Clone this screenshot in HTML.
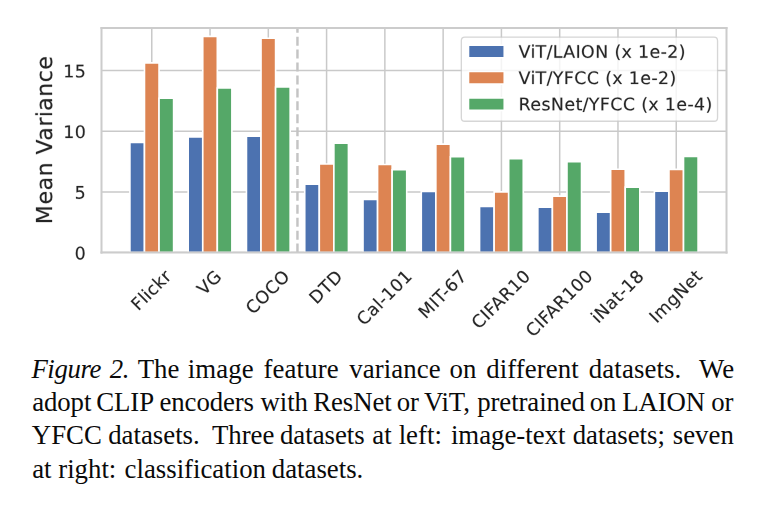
<!DOCTYPE html>
<html><head><meta charset="utf-8"><title>Figure 2</title>
<style>
html,body{margin:0;padding:0;background:#fff;}
body{width:765px;height:507px;position:relative;overflow:hidden;font-family:"Liberation Serif",serif;}
.cap{position:absolute;left:31.4px;width:720px;font-family:"Liberation Serif",serif;font-size:26.8px;line-height:33px;height:33px;color:#0a0a0a;white-space:nowrap;}
.cap i{font-style:italic;letter-spacing:-0.4px;}
.cap b{display:inline-block;font-weight:normal;height:1px;}

</style></head><body>
<svg width="765" height="507" viewBox="0 0 765 507" style="position:absolute;left:0;top:0;display:block"> <defs> <style type="text/css">*{stroke-linejoin: round; stroke-linecap: butt}</style> </defs> <g id="figure_1"> <g id="patch_1"> <path d="M 0 507 L 765 507 L 765 0 L 0 0 z " style="fill: #ffffff"/> </g> <g id="axes_1"> <g id="patch_2"> <path d="M 101.5 252.6 L 726.5 252.6 L 726.5 28.1 L 101.5 28.1 z " style="fill: #ffffff"/> </g> <g id="matplotlib.axis_1"> <g id="xtick_1"> <g id="line2d_1"> <path d="M 151.762 252.6 L 151.762 28.1 " clip-path="url(#p5febe5a006)" style="fill: none; stroke: #c9c9c9; stroke-width: 1.5; stroke-linecap: square"/> </g> <g id="text_1"> <g style="fill: #262626; stroke: #262626; stroke-width: 70" transform="translate(138.354 311.471) rotate(-45) scale(0.181 -0.181)"> <defs> <path id="DejaVuSans-46" d="M 628 4666 L 3309 4666 L 3309 4134 L 1259 4134 L 1259 2759 L 3109 2759 L 3109 2228 L 1259 2228 L 1259 0 L 628 0 L 628 4666 z " transform="scale(0.015)"/> <path id="DejaVuSans-6c" d="M 603 4863 L 1178 4863 L 1178 0 L 603 0 L 603 4863 z " transform="scale(0.015)"/> <path id="DejaVuSans-69" d="M 603 3500 L 1178 3500 L 1178 0 L 603 0 L 603 3500 z M 603 4863 L 1178 4863 L 1178 4134 L 603 4134 L 603 4863 z " transform="scale(0.015)"/> <path id="DejaVuSans-63" d="M 3122 3366 L 3122 2828 Q 2878 2963 2633 3030 Q 2388 3097 2138 3097 Q 1578 3097 1268 2742 Q 959 2388 959 1747 Q 959 1106 1268 751 Q 1578 397 2138 397 Q 2388 397 2633 464 Q 2878 531 3122 666 L 3122 134 Q 2881 22 2623 -34 Q 2366 -91 2075 -91 Q 1284 -91 818 406 Q 353 903 353 1747 Q 353 2603 823 3093 Q 1294 3584 2113 3584 Q 2378 3584 2631 3529 Q 2884 3475 3122 3366 z " transform="scale(0.015)"/> <path id="DejaVuSans-6b" d="M 581 4863 L 1159 4863 L 1159 1991 L 2875 3500 L 3609 3500 L 1753 1863 L 3688 0 L 2938 0 L 1159 1709 L 1159 0 L 581 0 L 581 4863 z " transform="scale(0.015)"/> <path id="DejaVuSans-72" d="M 2631 2963 Q 2534 3019 2420 3045 Q 2306 3072 2169 3072 Q 1681 3072 1420 2755 Q 1159 2438 1159 1844 L 1159 0 L 581 0 L 581 3500 L 1159 3500 L 1159 2956 Q 1341 3275 1631 3429 Q 1922 3584 2338 3584 Q 2397 3584 2469 3576 Q 2541 3569 2628 3553 L 2631 2963 z " transform="scale(0.015)"/> </defs> <use href="#DejaVuSans-46"/> <use href="#DejaVuSans-6c" transform="translate(57.519 0)"/> <use href="#DejaVuSans-69" transform="translate(85.302 0)"/> <use href="#DejaVuSans-63" transform="translate(113.085 0)"/> <use href="#DejaVuSans-6b" transform="translate(168.066 0)"/> <use href="#DejaVuSans-72" transform="translate(225.976 0)"/> </g> </g> </g> <g id="xtick_2"> <g id="line2d_2"> <path d="M 210.037 252.6 L 210.037 28.1 " clip-path="url(#p5febe5a006)" style="fill: none; stroke: #c9c9c9; stroke-width: 1.5; stroke-linecap: square"/> </g> <g id="text_2"> <g style="fill: #262626; stroke: #262626; stroke-width: 70" transform="translate(204.298 296.134) rotate(-45) scale(0.181 -0.181)"> <defs> <path id="DejaVuSans-56" d="M 1831 0 L 50 4666 L 709 4666 L 2188 738 L 3669 4666 L 4325 4666 L 2547 0 L 1831 0 z " transform="scale(0.015)"/> <path id="DejaVuSans-47" d="M 3809 666 L 3809 1919 L 2778 1919 L 2778 2438 L 4434 2438 L 4434 434 Q 4069 175 3628 42 Q 3188 -91 2688 -91 Q 1594 -91 976 548 Q 359 1188 359 2328 Q 359 3472 976 4111 Q 1594 4750 2688 4750 Q 3144 4750 3555 4637 Q 3966 4525 4313 4306 L 4313 3634 Q 3963 3931 3569 4081 Q 3175 4231 2741 4231 Q 1884 4231 1454 3753 Q 1025 3275 1025 2328 Q 1025 1384 1454 906 Q 1884 428 2741 428 Q 3075 428 3337 486 Q 3600 544 3809 666 z " transform="scale(0.015)"/> </defs> <use href="#DejaVuSans-56"/> <use href="#DejaVuSans-47" transform="translate(68.408 0)"/> </g> </g> </g> <g id="xtick_3"> <g id="line2d_3"> <path d="M 268.312 252.6 L 268.312 28.1 " clip-path="url(#p5febe5a006)" style="fill: none; stroke: #c9c9c9; stroke-width: 1.5; stroke-linecap: square"/> </g> <g id="text_3"> <g style="fill: #262626; stroke: #262626; stroke-width: 70" transform="translate(253.005 315.269) rotate(-45) scale(0.181 -0.181)"> <defs> <path id="DejaVuSans-43" d="M 4122 4306 L 4122 3641 Q 3803 3938 3442 4084 Q 3081 4231 2675 4231 Q 1875 4231 1450 3742 Q 1025 3253 1025 2328 Q 1025 1406 1450 917 Q 1875 428 2675 428 Q 3081 428 3442 575 Q 3803 722 4122 1019 L 4122 359 Q 3791 134 3420 21 Q 3050 -91 2638 -91 Q 1578 -91 968 557 Q 359 1206 359 2328 Q 359 3453 968 4101 Q 1578 4750 2638 4750 Q 3056 4750 3426 4639 Q 3797 4528 4122 4306 z " transform="scale(0.015)"/> <path id="DejaVuSans-4f" d="M 2522 4238 Q 1834 4238 1429 3725 Q 1025 3213 1025 2328 Q 1025 1447 1429 934 Q 1834 422 2522 422 Q 3209 422 3611 934 Q 4013 1447 4013 2328 Q 4013 3213 3611 3725 Q 3209 4238 2522 4238 z M 2522 4750 Q 3503 4750 4090 4092 Q 4678 3434 4678 2328 Q 4678 1225 4090 567 Q 3503 -91 2522 -91 Q 1538 -91 948 565 Q 359 1222 359 2328 Q 359 3434 948 4092 Q 1538 4750 2522 4750 z " transform="scale(0.015)"/> </defs> <use href="#DejaVuSans-43"/> <use href="#DejaVuSans-4f" transform="translate(69.824 0)"/> <use href="#DejaVuSans-43" transform="translate(148.535 0)"/> <use href="#DejaVuSans-4f" transform="translate(218.359 0)"/> </g> </g> </g> <g id="xtick_4"> <g id="line2d_4"> <path d="M 326.587 252.6 L 326.587 28.1 " clip-path="url(#p5febe5a006)" style="fill: none; stroke: #c9c9c9; stroke-width: 1.5; stroke-linecap: square"/> </g> <g id="text_4"> <g style="fill: #262626; stroke: #262626; stroke-width: 70" transform="translate(316.470 304.890) rotate(-45) scale(0.181 -0.181)"> <defs> <path id="DejaVuSans-44" d="M 1259 4147 L 1259 519 L 2022 519 Q 2988 519 3436 956 Q 3884 1394 3884 2338 Q 3884 3275 3436 3711 Q 2988 4147 2022 4147 L 1259 4147 z M 628 4666 L 1925 4666 Q 3281 4666 3915 4102 Q 4550 3538 4550 2338 Q 4550 1131 3912 565 Q 3275 0 1925 0 L 628 0 L 628 4666 z " transform="scale(0.015)"/> <path id="DejaVuSans-54" d="M -19 4666 L 3928 4666 L 3928 4134 L 2272 4134 L 2272 0 L 1638 0 L 1638 4134 L -19 4134 L -19 4666 z " transform="scale(0.015)"/> </defs> <use href="#DejaVuSans-44"/> <use href="#DejaVuSans-54" transform="translate(77.001 0)"/> <use href="#DejaVuSans-44" transform="translate(138.085 0)"/> </g> </g> </g> <g id="xtick_5"> <g id="line2d_5"> <path d="M 384.862 252.6 L 384.862 28.1 " clip-path="url(#p5febe5a006)" style="fill: none; stroke: #c9c9c9; stroke-width: 1.5; stroke-linecap: square"/> </g> <g id="text_5"> <g style="fill: #262626; stroke: #262626; stroke-width: 70" transform="translate(363.940 326.501) rotate(-45) scale(0.181 -0.181)"> <defs> <path id="DejaVuSans-61" d="M 2194 1759 Q 1497 1759 1228 1600 Q 959 1441 959 1056 Q 959 750 1161 570 Q 1363 391 1709 391 Q 2188 391 2477 730 Q 2766 1069 2766 1631 L 2766 1759 L 2194 1759 z M 3341 1997 L 3341 0 L 2766 0 L 2766 531 Q 2569 213 2275 61 Q 1981 -91 1556 -91 Q 1019 -91 701 211 Q 384 513 384 1019 Q 384 1609 779 1909 Q 1175 2209 1959 2209 L 2766 2209 L 2766 2266 Q 2766 2663 2505 2880 Q 2244 3097 1772 3097 Q 1472 3097 1187 3025 Q 903 2953 641 2809 L 641 3341 Q 956 3463 1253 3523 Q 1550 3584 1831 3584 Q 2591 3584 2966 3190 Q 3341 2797 3341 1997 z " transform="scale(0.015)"/> <path id="DejaVuSans-2d" d="M 313 2009 L 1997 2009 L 1997 1497 L 313 1497 L 313 2009 z " transform="scale(0.015)"/> <path id="DejaVuSans-31" d="M 794 531 L 1825 531 L 1825 4091 L 703 3866 L 703 4441 L 1819 4666 L 2450 4666 L 2450 531 L 3481 531 L 3481 0 L 794 0 L 794 531 z " transform="scale(0.015)"/> <path id="DejaVuSans-30" d="M 2034 4250 Q 1547 4250 1301 3770 Q 1056 3291 1056 2328 Q 1056 1369 1301 889 Q 1547 409 2034 409 Q 2525 409 2770 889 Q 3016 1369 3016 2328 Q 3016 3291 2770 3770 Q 2525 4250 2034 4250 z M 2034 4750 Q 2819 4750 3233 4129 Q 3647 3509 3647 2328 Q 3647 1150 3233 529 Q 2819 -91 2034 -91 Q 1250 -91 836 529 Q 422 1150 422 2328 Q 422 3509 836 4129 Q 1250 4750 2034 4750 z " transform="scale(0.015)"/> </defs> <use href="#DejaVuSans-43"/> <use href="#DejaVuSans-61" transform="translate(69.824 0)"/> <use href="#DejaVuSans-6c" transform="translate(131.103 0)"/> <use href="#DejaVuSans-2d" transform="translate(158.886 0)"/> <use href="#DejaVuSans-31" transform="translate(194.970 0)"/> <use href="#DejaVuSans-30" transform="translate(258.593 0)"/> <use href="#DejaVuSans-31" transform="translate(322.216 0)"/> </g> </g> </g> <g id="xtick_6"> <g id="line2d_6"> <path d="M 443.137 252.6 L 443.137 28.1 " clip-path="url(#p5febe5a006)" style="fill: none; stroke: #c9c9c9; stroke-width: 1.5; stroke-linecap: square"/> </g> <g id="text_6"> <g style="fill: #262626; stroke: #262626; stroke-width: 70" transform="translate(425.681 319.568) rotate(-45) scale(0.181 -0.181)"> <defs> <path id="DejaVuSans-4d" d="M 628 4666 L 1569 4666 L 2759 1491 L 3956 4666 L 4897 4666 L 4897 0 L 4281 0 L 4281 4097 L 3078 897 L 2444 897 L 1241 4097 L 1241 0 L 628 0 L 628 4666 z " transform="scale(0.015)"/> <path id="DejaVuSans-49" d="M 628 4666 L 1259 4666 L 1259 0 L 628 0 L 628 4666 z " transform="scale(0.015)"/> <path id="DejaVuSans-36" d="M 2113 2584 Q 1688 2584 1439 2293 Q 1191 2003 1191 1497 Q 1191 994 1439 701 Q 1688 409 2113 409 Q 2538 409 2786 701 Q 3034 994 3034 1497 Q 3034 2003 2786 2293 Q 2538 2584 2113 2584 z M 3366 4563 L 3366 3988 Q 3128 4100 2886 4159 Q 2644 4219 2406 4219 Q 1781 4219 1451 3797 Q 1122 3375 1075 2522 Q 1259 2794 1537 2939 Q 1816 3084 2150 3084 Q 2853 3084 3261 2657 Q 3669 2231 3669 1497 Q 3669 778 3244 343 Q 2819 -91 2113 -91 Q 1303 -91 875 529 Q 447 1150 447 2328 Q 447 3434 972 4092 Q 1497 4750 2381 4750 Q 2619 4750 2861 4703 Q 3103 4656 3366 4563 z " transform="scale(0.015)"/> <path id="DejaVuSans-37" d="M 525 4666 L 3525 4666 L 3525 4397 L 1831 0 L 1172 0 L 2766 4134 L 525 4134 L 525 4666 z " transform="scale(0.015)"/> </defs> <use href="#DejaVuSans-4d"/> <use href="#DejaVuSans-49" transform="translate(86.279 0)"/> <use href="#DejaVuSans-54" transform="translate(115.771 0)"/> <use href="#DejaVuSans-2d" transform="translate(167.730 0)"/> <use href="#DejaVuSans-36" transform="translate(203.814 0)"/> <use href="#DejaVuSans-37" transform="translate(267.437 0)"/> </g> </g> </g> <g id="xtick_7"> <g id="line2d_7"> <path d="M 501.412 252.6 L 501.412 28.1 " clip-path="url(#p5febe5a006)" style="fill: none; stroke: #c9c9c9; stroke-width: 1.5; stroke-linecap: square"/> </g> <g id="text_7"> <g style="fill: #262626; stroke: #262626; stroke-width: 70" transform="translate(478.780 329.920) rotate(-45) scale(0.181 -0.181)"> <defs> <path id="DejaVuSans-41" d="M 2188 4044 L 1331 1722 L 3047 1722 L 2188 4044 z M 1831 4666 L 2547 4666 L 4325 0 L 3669 0 L 3244 1197 L 1141 1197 L 716 0 L 50 0 L 1831 4666 z " transform="scale(0.015)"/> <path id="DejaVuSans-52" d="M 2841 2188 Q 3044 2119 3236 1894 Q 3428 1669 3622 1275 L 4263 0 L 3584 0 L 2988 1197 Q 2756 1666 2539 1819 Q 2322 1972 1947 1972 L 1259 1972 L 1259 0 L 628 0 L 628 4666 L 2053 4666 Q 2853 4666 3247 4331 Q 3641 3997 3641 3322 Q 3641 2881 3436 2590 Q 3231 2300 2841 2188 z M 1259 4147 L 1259 2491 L 2053 2491 Q 2509 2491 2742 2702 Q 2975 2913 2975 3322 Q 2975 3731 2742 3939 Q 2509 4147 2053 4147 L 1259 4147 z " transform="scale(0.015)"/> </defs> <use href="#DejaVuSans-43"/> <use href="#DejaVuSans-49" transform="translate(69.824 0)"/> <use href="#DejaVuSans-46" transform="translate(99.316 0)"/> <use href="#DejaVuSans-41" transform="translate(147.710 0)"/> <use href="#DejaVuSans-52" transform="translate(216.119 0)"/> <use href="#DejaVuSans-31" transform="translate(285.601 0)"/> <use href="#DejaVuSans-30" transform="translate(349.224 0)"/> </g> </g> </g> <g id="xtick_8"> <g id="line2d_8"> <path d="M 559.687 252.6 L 559.687 28.1 " clip-path="url(#p5febe5a006)" style="fill: none; stroke: #c9c9c9; stroke-width: 1.5; stroke-linecap: square"/> </g> <g id="text_8"> <g style="fill: #262626; stroke: #262626; stroke-width: 70" transform="translate(533.029 337.971) rotate(-45) scale(0.181 -0.181)"> <use href="#DejaVuSans-43"/> <use href="#DejaVuSans-49" transform="translate(69.824 0)"/> <use href="#DejaVuSans-46" transform="translate(99.316 0)"/> <use href="#DejaVuSans-41" transform="translate(147.710 0)"/> <use href="#DejaVuSans-52" transform="translate(216.119 0)"/> <use href="#DejaVuSans-31" transform="translate(285.601 0)"/> <use href="#DejaVuSans-30" transform="translate(349.224 0)"/> <use href="#DejaVuSans-30" transform="translate(412.847 0)"/> </g> </g> </g> <g id="xtick_9"> <g id="line2d_9"> <path d="M 617.962 252.6 L 617.962 28.1 " clip-path="url(#p5febe5a006)" style="fill: none; stroke: #c9c9c9; stroke-width: 1.5; stroke-linecap: square"/> </g> <g id="text_9"> <g style="fill: #262626; stroke: #262626; stroke-width: 70" transform="translate(598.270 324.041) rotate(-45) scale(0.181 -0.181)"> <defs> <path id="DejaVuSans-4e" d="M 628 4666 L 1478 4666 L 3547 763 L 3547 4666 L 4159 4666 L 4159 0 L 3309 0 L 1241 3903 L 1241 0 L 628 0 L 628 4666 z " transform="scale(0.015)"/> <path id="DejaVuSans-74" d="M 1172 4494 L 1172 3500 L 2356 3500 L 2356 3053 L 1172 3053 L 1172 1153 Q 1172 725 1289 603 Q 1406 481 1766 481 L 2356 481 L 2356 0 L 1766 0 Q 1100 0 847 248 Q 594 497 594 1153 L 594 3053 L 172 3053 L 172 3500 L 594 3500 L 594 4494 L 1172 4494 z " transform="scale(0.015)"/> <path id="DejaVuSans-38" d="M 2034 2216 Q 1584 2216 1326 1975 Q 1069 1734 1069 1313 Q 1069 891 1326 650 Q 1584 409 2034 409 Q 2484 409 2743 651 Q 3003 894 3003 1313 Q 3003 1734 2745 1975 Q 2488 2216 2034 2216 z M 1403 2484 Q 997 2584 770 2862 Q 544 3141 544 3541 Q 544 4100 942 4425 Q 1341 4750 2034 4750 Q 2731 4750 3128 4425 Q 3525 4100 3525 3541 Q 3525 3141 3298 2862 Q 3072 2584 2669 2484 Q 3125 2378 3379 2068 Q 3634 1759 3634 1313 Q 3634 634 3220 271 Q 2806 -91 2034 -91 Q 1263 -91 848 271 Q 434 634 434 1313 Q 434 1759 690 2068 Q 947 2378 1403 2484 z M 1172 3481 Q 1172 3119 1398 2916 Q 1625 2713 2034 2713 Q 2441 2713 2670 2916 Q 2900 3119 2900 3481 Q 2900 3844 2670 4047 Q 2441 4250 2034 4250 Q 1625 4250 1398 4047 Q 1172 3844 1172 3481 z " transform="scale(0.015)"/> </defs> <use href="#DejaVuSans-69"/> <use href="#DejaVuSans-4e" transform="translate(27.783 0)"/> <use href="#DejaVuSans-61" transform="translate(102.587 0)"/> <use href="#DejaVuSans-74" transform="translate(163.867 0)"/> <use href="#DejaVuSans-2d" transform="translate(203.076 0)"/> <use href="#DejaVuSans-31" transform="translate(239.160 0)"/> <use href="#DejaVuSans-38" transform="translate(302.783 0)"/> </g> </g> </g> <g id="xtick_10"> <g id="line2d_10"> <path d="M 676.237 252.6 L 676.237 28.1 " clip-path="url(#p5febe5a006)" style="fill: none; stroke: #c9c9c9; stroke-width: 1.5; stroke-linecap: square"/> </g> <g id="text_10"> <g style="fill: #262626; stroke: #262626; stroke-width: 70" transform="translate(656.574 323.982) rotate(-45) scale(0.181 -0.181)"> <defs> <path id="DejaVuSans-6d" d="M 3328 2828 Q 3544 3216 3844 3400 Q 4144 3584 4550 3584 Q 5097 3584 5394 3201 Q 5691 2819 5691 2113 L 5691 0 L 5113 0 L 5113 2094 Q 5113 2597 4934 2840 Q 4756 3084 4391 3084 Q 3944 3084 3684 2787 Q 3425 2491 3425 1978 L 3425 0 L 2847 0 L 2847 2094 Q 2847 2600 2669 2842 Q 2491 3084 2119 3084 Q 1678 3084 1418 2786 Q 1159 2488 1159 1978 L 1159 0 L 581 0 L 581 3500 L 1159 3500 L 1159 2956 Q 1356 3278 1631 3431 Q 1906 3584 2284 3584 Q 2666 3584 2933 3390 Q 3200 3197 3328 2828 z " transform="scale(0.015)"/> <path id="DejaVuSans-67" d="M 2906 1791 Q 2906 2416 2648 2759 Q 2391 3103 1925 3103 Q 1463 3103 1205 2759 Q 947 2416 947 1791 Q 947 1169 1205 825 Q 1463 481 1925 481 Q 2391 481 2648 825 Q 2906 1169 2906 1791 z M 3481 434 Q 3481 -459 3084 -895 Q 2688 -1331 1869 -1331 Q 1566 -1331 1297 -1286 Q 1028 -1241 775 -1147 L 775 -588 Q 1028 -725 1275 -790 Q 1522 -856 1778 -856 Q 2344 -856 2625 -561 Q 2906 -266 2906 331 L 2906 616 Q 2728 306 2450 153 Q 2172 0 1784 0 Q 1141 0 747 490 Q 353 981 353 1791 Q 353 2603 747 3093 Q 1141 3584 1784 3584 Q 2172 3584 2450 3431 Q 2728 3278 2906 2969 L 2906 3500 L 3481 3500 L 3481 434 z " transform="scale(0.015)"/> <path id="DejaVuSans-65" d="M 3597 1894 L 3597 1613 L 953 1613 Q 991 1019 1311 708 Q 1631 397 2203 397 Q 2534 397 2845 478 Q 3156 559 3463 722 L 3463 178 Q 3153 47 2828 -22 Q 2503 -91 2169 -91 Q 1331 -91 842 396 Q 353 884 353 1716 Q 353 2575 817 3079 Q 1281 3584 2069 3584 Q 2775 3584 3186 3129 Q 3597 2675 3597 1894 z M 3022 2063 Q 3016 2534 2758 2815 Q 2500 3097 2075 3097 Q 1594 3097 1305 2825 Q 1016 2553 972 2059 L 3022 2063 z " transform="scale(0.015)"/> </defs> <use href="#DejaVuSans-49"/> <use href="#DejaVuSans-6d" transform="translate(29.492 0)"/> <use href="#DejaVuSans-67" transform="translate(126.904 0)"/> <use href="#DejaVuSans-4e" transform="translate(190.380 0)"/> <use href="#DejaVuSans-65" transform="translate(265.185 0)"/> <use href="#DejaVuSans-74" transform="translate(326.708 0)"/> </g> </g> </g> </g> <g id="matplotlib.axis_2"> <g id="ytick_1"> <g id="line2d_11"> <path d="M 101.5 252.6 L 726.5 252.6 " clip-path="url(#p5febe5a006)" style="fill: none; stroke: #c9c9c9; stroke-width: 1.5; stroke-linecap: square"/> </g> <g id="text_11"> <g style="fill: #262626; stroke: #262626; stroke-width: 70" transform="translate(74.656 259.399) scale(0.181 -0.181)"> <use href="#DejaVuSans-30"/> </g> </g> </g> <g id="ytick_2"> <g id="line2d_12"> <path d="M 101.5 191.924 L 726.5 191.924 " clip-path="url(#p5febe5a006)" style="fill: none; stroke: #c9c9c9; stroke-width: 1.5; stroke-linecap: square"/> </g> <g id="text_12"> <g style="fill: #262626; stroke: #262626; stroke-width: 70" transform="translate(74.656 198.723) scale(0.181 -0.181)"> <defs> <path id="DejaVuSans-35" d="M 691 4666 L 3169 4666 L 3169 4134 L 1269 4134 L 1269 2991 Q 1406 3038 1543 3061 Q 1681 3084 1819 3084 Q 2600 3084 3056 2656 Q 3513 2228 3513 1497 Q 3513 744 3044 326 Q 2575 -91 1722 -91 Q 1428 -91 1123 -41 Q 819 9 494 109 L 494 744 Q 775 591 1075 516 Q 1375 441 1709 441 Q 2250 441 2565 725 Q 2881 1009 2881 1497 Q 2881 1984 2565 2268 Q 2250 2553 1709 2553 Q 1456 2553 1204 2497 Q 953 2441 691 2322 L 691 4666 z " transform="scale(0.015)"/> </defs> <use href="#DejaVuSans-35"/> </g> </g> </g> <g id="ytick_3"> <g id="line2d_13"> <path d="M 101.5 131.248 L 726.5 131.248 " clip-path="url(#p5febe5a006)" style="fill: none; stroke: #c9c9c9; stroke-width: 1.5; stroke-linecap: square"/> </g> <g id="text_13"> <g style="fill: #262626; stroke: #262626; stroke-width: 70" transform="translate(63.269 138.048) scale(0.181 -0.181)"> <use href="#DejaVuSans-31"/> <use href="#DejaVuSans-30" transform="translate(63.623 0)"/> </g> </g> </g> <g id="ytick_4"> <g id="line2d_14"> <path d="M 101.5 70.572 L 726.5 70.572 " clip-path="url(#p5febe5a006)" style="fill: none; stroke: #c9c9c9; stroke-width: 1.5; stroke-linecap: square"/> </g> <g id="text_14"> <g style="fill: #262626; stroke: #262626; stroke-width: 70" transform="translate(63.269 77.372) scale(0.181 -0.181)"> <use href="#DejaVuSans-31"/> <use href="#DejaVuSans-35" transform="translate(63.623 0)"/> </g> </g> </g> <g id="text_15"> <g style="fill: #262626; stroke: #262626; stroke-width: 70" transform="translate(52.024 224.201) rotate(-90) scale(0.229 -0.229)"> <defs> <path id="DejaVuSans-6e" d="M 3513 2113 L 3513 0 L 2938 0 L 2938 2094 Q 2938 2591 2744 2837 Q 2550 3084 2163 3084 Q 1697 3084 1428 2787 Q 1159 2491 1159 1978 L 1159 0 L 581 0 L 581 3500 L 1159 3500 L 1159 2956 Q 1366 3272 1645 3428 Q 1925 3584 2291 3584 Q 2894 3584 3203 3211 Q 3513 2838 3513 2113 z " transform="scale(0.015)"/> <path id="DejaVuSans-20" transform="scale(0.015)"/> </defs> <use href="#DejaVuSans-4d"/> <use href="#DejaVuSans-65" transform="translate(86.279 0)"/> <use href="#DejaVuSans-61" transform="translate(147.802 0)"/> <use href="#DejaVuSans-6e" transform="translate(209.082 0)"/> <use href="#DejaVuSans-20" transform="translate(272.460 0)"/> <use href="#DejaVuSans-56" transform="translate(304.248 0)"/> <use href="#DejaVuSans-61" transform="translate(364.906 0)"/> <use href="#DejaVuSans-72" transform="translate(426.185 0)"/> <use href="#DejaVuSans-69" transform="translate(467.298 0)"/> <use href="#DejaVuSans-61" transform="translate(495.082 0)"/> <use href="#DejaVuSans-6e" transform="translate(556.361 0)"/> <use href="#DejaVuSans-63" transform="translate(619.740 0)"/> <use href="#DejaVuSans-65" transform="translate(674.720 0)"/> </g> </g> </g> <g id="patch_3"> <path d="M 129.909 252.6 L 144.477 252.6 L 144.477 142.456 L 129.909 142.456 z " clip-path="url(#p5febe5a006)" style="fill: #4c72b0; stroke: #ffffff; stroke-width: 1.627; stroke-linejoin: miter"/> </g> <g id="patch_4"> <path d="M 188.184 252.6 L 202.752 252.6 L 202.752 136.879 L 188.184 136.879 z " clip-path="url(#p5febe5a006)" style="fill: #4c72b0; stroke: #ffffff; stroke-width: 1.627; stroke-linejoin: miter"/> </g> <g id="patch_5"> <path d="M 246.459 252.6 L 261.027 252.6 L 261.027 136.152 L 246.459 136.152 z " clip-path="url(#p5febe5a006)" style="fill: #4c72b0; stroke: #ffffff; stroke-width: 1.627; stroke-linejoin: miter"/> </g> <g id="patch_6"> <path d="M 304.734 252.6 L 319.303 252.6 L 319.303 184.163 L 304.734 184.163 z " clip-path="url(#p5febe5a006)" style="fill: #4c72b0; stroke: #ffffff; stroke-width: 1.627; stroke-linejoin: miter"/> </g> <g id="patch_7"> <path d="M 363.009 252.6 L 377.578 252.6 L 377.578 199.318 L 363.009 199.318 z " clip-path="url(#p5febe5a006)" style="fill: #4c72b0; stroke: #ffffff; stroke-width: 1.627; stroke-linejoin: miter"/> </g> <g id="patch_8"> <path d="M 421.284 252.6 L 435.853 252.6 L 435.853 191.437 L 421.284 191.437 z " clip-path="url(#p5febe5a006)" style="fill: #4c72b0; stroke: #ffffff; stroke-width: 1.627; stroke-linejoin: miter"/> </g> <g id="patch_9"> <path d="M 479.559 252.6 L 494.128 252.6 L 494.128 206.350 L 479.559 206.350 z " clip-path="url(#p5febe5a006)" style="fill: #4c72b0; stroke: #ffffff; stroke-width: 1.627; stroke-linejoin: miter"/> </g> <g id="patch_10"> <path d="M 537.834 252.6 L 552.403 252.6 L 552.403 207.198 L 537.834 207.198 z " clip-path="url(#p5febe5a006)" style="fill: #4c72b0; stroke: #ffffff; stroke-width: 1.627; stroke-linejoin: miter"/> </g> <g id="patch_11"> <path d="M 596.109 252.6 L 610.678 252.6 L 610.678 212.290 L 596.109 212.290 z " clip-path="url(#p5febe5a006)" style="fill: #4c72b0; stroke: #ffffff; stroke-width: 1.627; stroke-linejoin: miter"/> </g> <g id="patch_12"> <path d="M 654.384 252.6 L 668.953 252.6 L 668.953 191.195 L 654.384 191.195 z " clip-path="url(#p5febe5a006)" style="fill: #4c72b0; stroke: #ffffff; stroke-width: 1.627; stroke-linejoin: miter"/> </g> <g id="patch_13"> <path d="M 144.477 252.6 L 159.046 252.6 L 159.046 62.923 L 144.477 62.923 z " clip-path="url(#p5febe5a006)" style="fill: #dd8452; stroke: #ffffff; stroke-width: 1.627; stroke-linejoin: miter"/> </g> <g id="patch_14"> <path d="M 202.752 252.6 L 217.321 252.6 L 217.321 36.371 L 202.752 36.371 z " clip-path="url(#p5febe5a006)" style="fill: #dd8452; stroke: #ffffff; stroke-width: 1.627; stroke-linejoin: miter"/> </g> <g id="patch_15"> <path d="M 261.027 252.6 L 275.596 252.6 L 275.596 38.311 L 261.027 38.311 z " clip-path="url(#p5febe5a006)" style="fill: #dd8452; stroke: #ffffff; stroke-width: 1.627; stroke-linejoin: miter"/> </g> <g id="patch_16"> <path d="M 319.303 252.6 L 333.871 252.6 L 333.871 164.037 L 319.303 164.037 z " clip-path="url(#p5febe5a006)" style="fill: #dd8452; stroke: #ffffff; stroke-width: 1.627; stroke-linejoin: miter"/> </g> <g id="patch_17"> <path d="M 377.578 252.6 L 392.146 252.6 L 392.146 164.522 L 377.578 164.522 z " clip-path="url(#p5febe5a006)" style="fill: #dd8452; stroke: #ffffff; stroke-width: 1.627; stroke-linejoin: miter"/> </g> <g id="patch_18"> <path d="M 435.853 252.6 L 450.421 252.6 L 450.421 144.153 L 435.853 144.153 z " clip-path="url(#p5febe5a006)" style="fill: #dd8452; stroke: #ffffff; stroke-width: 1.627; stroke-linejoin: miter"/> </g> <g id="patch_19"> <path d="M 494.128 252.6 L 508.696 252.6 L 508.696 191.922 L 494.128 191.922 z " clip-path="url(#p5febe5a006)" style="fill: #dd8452; stroke: #ffffff; stroke-width: 1.627; stroke-linejoin: miter"/> </g> <g id="patch_20"> <path d="M 552.403 252.6 L 566.972 252.6 L 566.972 196.165 L 552.403 196.165 z " clip-path="url(#p5febe5a006)" style="fill: #dd8452; stroke: #ffffff; stroke-width: 1.627; stroke-linejoin: miter"/> </g> <g id="patch_21"> <path d="M 610.678 252.6 L 625.247 252.6 L 625.247 169.250 L 610.678 169.250 z " clip-path="url(#p5febe5a006)" style="fill: #dd8452; stroke: #ffffff; stroke-width: 1.627; stroke-linejoin: miter"/> </g> <g id="patch_22"> <path d="M 668.953 252.6 L 683.522 252.6 L 683.522 169.371 L 668.953 169.371 z " clip-path="url(#p5febe5a006)" style="fill: #dd8452; stroke: #ffffff; stroke-width: 1.627; stroke-linejoin: miter"/> </g> <g id="patch_23"> <path d="M 159.046 252.6 L 173.615 252.6 L 173.615 98.203 L 159.046 98.203 z " clip-path="url(#p5febe5a006)" style="fill: #55a868; stroke: #ffffff; stroke-width: 1.627; stroke-linejoin: miter"/> </g> <g id="patch_24"> <path d="M 217.321 252.6 L 231.890 252.6 L 231.890 88.019 L 217.321 88.019 z " clip-path="url(#p5febe5a006)" style="fill: #55a868; stroke: #ffffff; stroke-width: 1.627; stroke-linejoin: miter"/> </g> <g id="patch_25"> <path d="M 275.596 252.6 L 290.165 252.6 L 290.165 87.049 L 275.596 87.049 z " clip-path="url(#p5febe5a006)" style="fill: #55a868; stroke: #ffffff; stroke-width: 1.627; stroke-linejoin: miter"/> </g> <g id="patch_26"> <path d="M 333.871 252.6 L 348.440 252.6 L 348.440 143.184 L 333.871 143.184 z " clip-path="url(#p5febe5a006)" style="fill: #55a868; stroke: #ffffff; stroke-width: 1.627; stroke-linejoin: miter"/> </g> <g id="patch_27"> <path d="M 392.146 252.6 L 406.715 252.6 L 406.715 169.735 L 392.146 169.735 z " clip-path="url(#p5febe5a006)" style="fill: #55a868; stroke: #ffffff; stroke-width: 1.627; stroke-linejoin: miter"/> </g> <g id="patch_28"> <path d="M 450.421 252.6 L 464.990 252.6 L 464.990 156.762 L 450.421 156.762 z " clip-path="url(#p5febe5a006)" style="fill: #55a868; stroke: #ffffff; stroke-width: 1.627; stroke-linejoin: miter"/> </g> <g id="patch_29"> <path d="M 508.696 252.6 L 523.265 252.6 L 523.265 158.581 L 508.696 158.581 z " clip-path="url(#p5febe5a006)" style="fill: #55a868; stroke: #ffffff; stroke-width: 1.627; stroke-linejoin: miter"/> </g> <g id="patch_30"> <path d="M 566.972 252.6 L 581.540 252.6 L 581.540 161.612 L 566.972 161.612 z " clip-path="url(#p5febe5a006)" style="fill: #55a868; stroke: #ffffff; stroke-width: 1.627; stroke-linejoin: miter"/> </g> <g id="patch_31"> <path d="M 625.247 252.6 L 639.815 252.6 L 639.815 187.072 L 625.247 187.072 z " clip-path="url(#p5febe5a006)" style="fill: #55a868; stroke: #ffffff; stroke-width: 1.627; stroke-linejoin: miter"/> </g> <g id="patch_32"> <path d="M 683.522 252.6 L 698.090 252.6 L 698.090 156.520 L 683.522 156.520 z " clip-path="url(#p5febe5a006)" style="fill: #55a868; stroke: #ffffff; stroke-width: 1.627; stroke-linejoin: miter"/> </g> <g id="line2d_15"> <path d="M 297.449 252.6 L 297.449 28.1 " clip-path="url(#p5febe5a006)" style="fill: none; stroke-dasharray: 9.029,3.904; stroke-dashoffset: 0; stroke: #c4c4c4; stroke-width: 2.440"/> </g> <g id="patch_33"> <path d="M 101.5 252.6 L 101.5 28.1 " style="fill: none; stroke: #cccccc; stroke-width: 2.033; stroke-linejoin: miter; stroke-linecap: square"/> </g> <g id="patch_34"> <path d="M 726.5 252.6 L 726.5 28.1 " style="fill: none; stroke: #cccccc; stroke-width: 2.033; stroke-linejoin: miter; stroke-linecap: square"/> </g> <g id="patch_35"> <path d="M 101.5 252.6 L 726.5 252.6 " style="fill: none; stroke: #cccccc; stroke-width: 2.033; stroke-linejoin: miter; stroke-linecap: square"/> </g> <g id="patch_36"> <path d="M 101.5 28.1 L 726.5 28.1 " style="fill: none; stroke: #cccccc; stroke-width: 2.033; stroke-linejoin: miter; stroke-linecap: square"/> </g> <g id="legend_1"> <g id="patch_37"> <path d="M 464.893 121.225 L 713.972 121.225 Q 717.551 121.225 717.551 117.646 L 717.551 40.627 Q 717.551 37.048 713.972 37.048 L 464.893 37.048 Q 461.313 37.048 461.313 40.627 L 461.313 117.646 Q 461.313 121.225 464.893 121.225 z " style="fill: #ffffff; opacity: 0.8; stroke: #cccccc; stroke-width: 1.3; stroke-linejoin: miter"/> </g> <g id="patch_38"> <path d="M 468.472 57.806 L 504.266 57.806 L 504.266 45.278 L 468.472 45.278 z " style="fill: #4c72b0; stroke: #ffffff; stroke-width: 1.627; stroke-linejoin: miter"/> </g> <g id="text_16"> <g style="fill: #262626; stroke: #262626; stroke-width: 70" transform="translate(518.584 57.806) scale(0.181 -0.181)"> <defs> <path id="DejaVuSans-2f" d="M 1625 4666 L 2156 4666 L 531 -594 L 0 -594 L 1625 4666 z " transform="scale(0.015)"/> <path id="DejaVuSans-4c" d="M 628 4666 L 1259 4666 L 1259 531 L 3531 531 L 3531 0 L 628 0 L 628 4666 z " transform="scale(0.015)"/> <path id="DejaVuSans-28" d="M 1984 4856 Q 1566 4138 1362 3434 Q 1159 2731 1159 2009 Q 1159 1288 1364 580 Q 1569 -128 1984 -844 L 1484 -844 Q 1016 -109 783 600 Q 550 1309 550 2009 Q 550 2706 781 3412 Q 1013 4119 1484 4856 L 1984 4856 z " transform="scale(0.015)"/> <path id="DejaVuSans-78" d="M 3513 3500 L 2247 1797 L 3578 0 L 2900 0 L 1881 1375 L 863 0 L 184 0 L 1544 1831 L 300 3500 L 978 3500 L 1906 2253 L 2834 3500 L 3513 3500 z " transform="scale(0.015)"/> <path id="DejaVuSans-32" d="M 1228 531 L 3431 531 L 3431 0 L 469 0 L 469 531 Q 828 903 1448 1529 Q 2069 2156 2228 2338 Q 2531 2678 2651 2914 Q 2772 3150 2772 3378 Q 2772 3750 2511 3984 Q 2250 4219 1831 4219 Q 1534 4219 1204 4116 Q 875 4013 500 3803 L 500 4441 Q 881 4594 1212 4672 Q 1544 4750 1819 4750 Q 2544 4750 2975 4387 Q 3406 4025 3406 3419 Q 3406 3131 3298 2873 Q 3191 2616 2906 2266 Q 2828 2175 2409 1742 Q 1991 1309 1228 531 z " transform="scale(0.015)"/> <path id="DejaVuSans-29" d="M 513 4856 L 1013 4856 Q 1481 4119 1714 3412 Q 1947 2706 1947 2009 Q 1947 1309 1714 600 Q 1481 -109 1013 -844 L 513 -844 Q 928 -128 1133 580 Q 1338 1288 1338 2009 Q 1338 2731 1133 3434 Q 928 4138 513 4856 z " transform="scale(0.015)"/> </defs> <use href="#DejaVuSans-56"/> <use href="#DejaVuSans-69" transform="translate(66.158 0)"/> <use href="#DejaVuSans-54" transform="translate(93.941 0)"/> <use href="#DejaVuSans-2f" transform="translate(155.025 0)"/> <use href="#DejaVuSans-4c" transform="translate(188.716 0)"/> <use href="#DejaVuSans-41" transform="translate(246.679 0)"/> <use href="#DejaVuSans-49" transform="translate(315.087 0)"/> <use href="#DejaVuSans-4f" transform="translate(344.580 0)"/> <use href="#DejaVuSans-4e" transform="translate(423.291 0)"/> <use href="#DejaVuSans-20" transform="translate(498.095 0)"/> <use href="#DejaVuSans-28" transform="translate(529.882 0)"/> <use href="#DejaVuSans-78" transform="translate(568.896 0)"/> <use href="#DejaVuSans-20" transform="translate(628.076 0)"/> <use href="#DejaVuSans-31" transform="translate(659.863 0)"/> <use href="#DejaVuSans-65" transform="translate(723.486 0)"/> <use href="#DejaVuSans-2d" transform="translate(785.009 0)"/> <use href="#DejaVuSans-32" transform="translate(821.093 0)"/> <use href="#DejaVuSans-29" transform="translate(884.716 0)"/> </g> </g> <g id="patch_39"> <path d="M 468.472 84.075 L 504.266 84.075 L 504.266 71.547 L 468.472 71.547 z " style="fill: #dd8452; stroke: #ffffff; stroke-width: 1.627; stroke-linejoin: miter"/> </g> <g id="text_17"> <g style="fill: #262626; stroke: #262626; stroke-width: 70" transform="translate(518.584 84.075) scale(0.181 -0.181)"> <defs> <path id="DejaVuSans-59" d="M -13 4666 L 666 4666 L 1959 2747 L 3244 4666 L 3922 4666 L 2272 2222 L 2272 0 L 1638 0 L 1638 2222 L -13 4666 z " transform="scale(0.015)"/> </defs> <use href="#DejaVuSans-56"/> <use href="#DejaVuSans-69" transform="translate(66.158 0)"/> <use href="#DejaVuSans-54" transform="translate(93.941 0)"/> <use href="#DejaVuSans-2f" transform="translate(155.025 0)"/> <use href="#DejaVuSans-59" transform="translate(188.716 0)"/> <use href="#DejaVuSans-46" transform="translate(249.800 0)"/> <use href="#DejaVuSans-43" transform="translate(307.320 0)"/> <use href="#DejaVuSans-43" transform="translate(377.144 0)"/> <use href="#DejaVuSans-20" transform="translate(446.968 0)"/> <use href="#DejaVuSans-28" transform="translate(478.755 0)"/> <use href="#DejaVuSans-78" transform="translate(517.769 0)"/> <use href="#DejaVuSans-20" transform="translate(576.949 0)"/> <use href="#DejaVuSans-31" transform="translate(608.736 0)"/> <use href="#DejaVuSans-65" transform="translate(672.359 0)"/> <use href="#DejaVuSans-2d" transform="translate(733.882 0)"/> <use href="#DejaVuSans-32" transform="translate(769.966 0)"/> <use href="#DejaVuSans-29" transform="translate(833.589 0)"/> </g> </g> <g id="patch_40"> <path d="M 468.472 110.345 L 504.266 110.345 L 504.266 97.817 L 468.472 97.817 z " style="fill: #55a868; stroke: #ffffff; stroke-width: 1.627; stroke-linejoin: miter"/> </g> <g id="text_18"> <g style="fill: #262626; stroke: #262626; stroke-width: 70" transform="translate(518.584 110.345) scale(0.181 -0.181)"> <defs> <path id="DejaVuSans-73" d="M 2834 3397 L 2834 2853 Q 2591 2978 2328 3040 Q 2066 3103 1784 3103 Q 1356 3103 1142 2972 Q 928 2841 928 2578 Q 928 2378 1081 2264 Q 1234 2150 1697 2047 L 1894 2003 Q 2506 1872 2764 1633 Q 3022 1394 3022 966 Q 3022 478 2636 193 Q 2250 -91 1575 -91 Q 1294 -91 989 -36 Q 684 19 347 128 L 347 722 Q 666 556 975 473 Q 1284 391 1588 391 Q 1994 391 2212 530 Q 2431 669 2431 922 Q 2431 1156 2273 1281 Q 2116 1406 1581 1522 L 1381 1569 Q 847 1681 609 1914 Q 372 2147 372 2553 Q 372 3047 722 3315 Q 1072 3584 1716 3584 Q 2034 3584 2315 3537 Q 2597 3491 2834 3397 z " transform="scale(0.015)"/> <path id="DejaVuSans-34" d="M 2419 4116 L 825 1625 L 2419 1625 L 2419 4116 z M 2253 4666 L 3047 4666 L 3047 1625 L 3713 1625 L 3713 1100 L 3047 1100 L 3047 0 L 2419 0 L 2419 1100 L 313 1100 L 313 1709 L 2253 4666 z " transform="scale(0.015)"/> </defs> <use href="#DejaVuSans-52"/> <use href="#DejaVuSans-65" transform="translate(64.982 0)"/> <use href="#DejaVuSans-73" transform="translate(126.505 0)"/> <use href="#DejaVuSans-4e" transform="translate(178.605 0)"/> <use href="#DejaVuSans-65" transform="translate(253.410 0)"/> <use href="#DejaVuSans-74" transform="translate(314.933 0)"/> <use href="#DejaVuSans-2f" transform="translate(354.142 0)"/> <use href="#DejaVuSans-59" transform="translate(387.833 0)"/> <use href="#DejaVuSans-46" transform="translate(448.917 0)"/> <use href="#DejaVuSans-43" transform="translate(506.437 0)"/> <use href="#DejaVuSans-43" transform="translate(576.261 0)"/> <use href="#DejaVuSans-20" transform="translate(646.085 0)"/> <use href="#DejaVuSans-28" transform="translate(677.873 0)"/> <use href="#DejaVuSans-78" transform="translate(716.886 0)"/> <use href="#DejaVuSans-20" transform="translate(776.066 0)"/> <use href="#DejaVuSans-31" transform="translate(807.853 0)"/> <use href="#DejaVuSans-65" transform="translate(871.476 0)"/> <use href="#DejaVuSans-2d" transform="translate(933 0)"/> <use href="#DejaVuSans-34" transform="translate(969.083 0)"/> <use href="#DejaVuSans-29" transform="translate(1032.707 0)"/> </g> </g> </g> </g> </g> <defs> <clipPath id="p5febe5a006"> <rect x="101.5" y="28.1" width="625" height="224.5"/> </clipPath> </defs> </svg> 
<div class="cap" id="l1" style="top:353.0px;left:31.40px;letter-spacing:0.10px"><i>Figure</i><b style="width:8.85px"></b><i>2.</i><b style="width:8.55px"></b>The<b style="width:8.05px"></b>image<b style="width:9.95px"></b>feature<b style="width:10.65px"></b>variance<b style="width:8.55px"></b>on<b style="width:9.75px"></b>different<b style="width:10.05px"></b>datasets.<b style="width:17.60px"></b>We</div>
<div class="cap" id="l2" style="top:386.3px;left:32.20px;letter-spacing:-0.10px">adopt<b style="width:5.05px"></b>CLIP<b style="width:5.55px"></b>encoders<b style="width:6.65px"></b>with<b style="width:5.45px"></b>ResNet<b style="width:5.15px"></b>or<b style="width:5.05px"></b>ViT,<b style="width:7.50px"></b>pretrained<b style="width:4.95px"></b>on<b style="width:5.85px"></b>LAION<b style="width:6.00px"></b>or</div>
<div class="cap" id="l3" style="top:419.4px;left:31.80px;letter-spacing:0.00px">YFCC<b style="width:6.40px"></b>datasets.<b style="width:12.20px"></b>Three<b style="width:5.50px"></b>datasets<b style="width:7.50px"></b>at<b style="width:7.10px"></b>left:<b style="width:9.05px"></b>image-text<b style="width:7.20px"></b>datasets;<b style="width:7.85px"></b>seven</div>
<div class="cap" id="l4" style="top:452.6px;left:32.20px;letter-spacing:0.00px">at<b style="width:6.70px"></b>right:<b style="width:8.30px"></b>classification<b style="width:5.80px"></b>datasets.</div>

</body></html>
